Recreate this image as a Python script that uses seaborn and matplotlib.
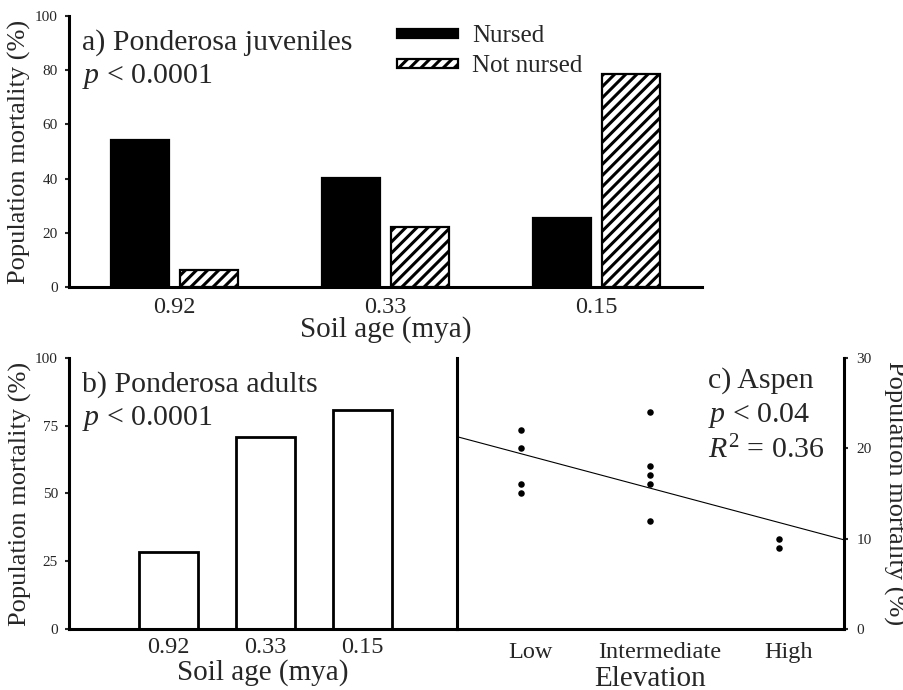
import numpy as np
import pandas as pd
import matplotlib
matplotlib.use("Agg")
import matplotlib.pyplot as plt
import seaborn as sns

# ---------------- data ----------------
soil_ages = ["0.92", "0.33", "0.15"]
juv_nursed = [54.3, 40.2, 25.5]
juv_not_nursed = [6.4, 22.1, 78.6]
juv_groups = ["Nursed", "Not nursed"]

adult_mortality = [28.5, 71.0, 80.9]

elev_levels = ["Low", "Intermediate", "High"]
aspen_elev = ["Low", "Low", "Low", "Low",
              "Intermediate", "Intermediate", "Intermediate", "Intermediate", "Intermediate",
              "High", "High"]
aspen_mortality = [22, 20, 16, 15, 24, 18, 17, 16, 12, 10, 9]

# ---------------- style ----------------
sns.set_style("ticks")
plt.rcParams["font.family"] = ["Liberation Serif", "DejaVu Serif"]
plt.rcParams["mathtext.fontset"] = "custom"
plt.rcParams["mathtext.rm"] = "Liberation Serif"
plt.rcParams["mathtext.it"] = "Liberation Serif:italic"
plt.rcParams["hatch.linewidth"] = 2.2
plt.rcParams["axes.linewidth"] = 2.2

fig = plt.figure(figsize=(9.04, 6.9), dpi=100)
ax_a = fig.add_axes([0.0763, 0.584, 0.7002, 0.3928])
ax_b = fig.add_axes([0.0763, 0.0884, 0.4292, 0.3928])
ax_c = fig.add_axes([0.5055, 0.0884, 0.4281, 0.3928])

TXT = 21.5
XT = 17.5
YT = 11
YL = 19
XL = 21


def style_axis(ax):
    ax.tick_params(axis="y", labelsize=YT, length=3, width=1.5, pad=5, direction="out")
    ax.tick_params(axis="x", labelsize=XT, length=0, pad=7)
    for s in ax.spines.values():
        s.set_linewidth(2.2)
        s.set_color("black")


# ---------------- panel a ----------------
df_a = pd.DataFrame({
    "age": soil_ages + soil_ages,
    "mortality": juv_nursed + juv_not_nursed,
    "group": [juv_groups[0]] * 3 + [juv_groups[1]] * 3,
})
sns.barplot(data=df_a, x="age", y="mortality", hue="group", order=soil_ages,
            hue_order=juv_groups, palette=["black", "white"], saturation=1,
            edgecolor="black", linewidth=1.6, width=0.65, gap=0.15,
            errorbar=None, legend=False, ax=ax_a)
for p in ax_a.containers[1]:
    p.set_hatch("///")
ax_a.set_xlim(-0.5, 2.5)
ax_a.set_ylim(0, 100)
ax_a.set_yticks([0, 20, 40, 60, 80, 100])
style_axis(ax_a)
ax_a.spines["top"].set_visible(False)
ax_a.spines["right"].set_visible(False)
ax_a.set_xlabel("Soil age (mya)", fontsize=XL)
ax_a.set_ylabel("Population mortality (%)", fontsize=YL, va="center", ha="center")
ax_a.yaxis.set_label_coords(-0.078, 0.5)
ax_a.xaxis.set_label_coords(0.5, -0.108)
ax_a.text(0.0205, 0.8745, "a) Ponderosa juveniles", transform=ax_a.transAxes,
          fontsize=TXT, va="baseline", ha="left")
ax_a.text(0.0205, 0.753, r"$p$ < 0.0001", transform=ax_a.transAxes,
          fontsize=TXT, va="baseline", ha="left")
ax_a.legend(handles=[ax_a.containers[0][0], ax_a.containers[1][0]], labels=juv_groups,
            frameon=False, loc="upper left", bbox_to_anchor=(0.518, 0.965),
            borderaxespad=0, borderpad=0, handlelength=2.45, handleheight=0.2,
            handletextpad=0.55, labelspacing=0.32, fontsize=18)

# ---------------- panel b ----------------
df_b = pd.DataFrame({"age": soil_ages, "mortality": adult_mortality})
sns.barplot(data=df_b, x="age", y="mortality", order=soil_ages, color="white",
            saturation=1, edgecolor="black", linewidth=2.0, width=0.61,
            errorbar=None, ax=ax_b)
ax_b.set_xlim(-1.03, 2.98)
ax_b.set_ylim(0, 100)
ax_b.set_yticks([0, 25, 50, 75, 100])
style_axis(ax_b)
ax_b.tick_params(axis="x", pad=6)
ax_b.spines["top"].set_visible(False)
ax_b.spines["right"].set_visible(False)
ax_b.set_xlabel("Soil age (mya)", fontsize=XL)
ax_b.set_ylabel("Population mortality (%)", fontsize=YL, va="center", ha="center")
ax_b.yaxis.set_label_coords(-0.125, 0.5)
ax_b.xaxis.set_label_coords(0.5, -0.11)
ax_b.text(0.0335, 0.8745, "b) Ponderosa adults", transform=ax_b.transAxes,
          fontsize=TXT, va="baseline", ha="left")
ax_b.text(0.0335, 0.753, r"$p$ < 0.0001", transform=ax_b.transAxes,
          fontsize=TXT, va="baseline", ha="left")

# ---------------- panel c ----------------
elev_pos = [elev_levels.index(e) + 0.5 for e in aspen_elev]
ax_c.set_xlim(0, 3)
ax_c.set_ylim(0, 30)
sns.regplot(x=elev_pos, y=aspen_mortality, ci=None, truncate=False, color="black",
            scatter_kws={"s": 22, "linewidths": 0, "alpha": 1},
            line_kws={"linewidth": 0.8}, ax=ax_c)
ax_c.set_xlim(0, 3)
ax_c.set_ylim(0, 30)
ax_c.set_xticks([i + 0.57 for i in range(len(elev_levels))])
ax_c.set_xticklabels(elev_levels)
ax_c.yaxis.tick_right()
ax_c.set_yticks([0, 10, 20, 30])
style_axis(ax_c)
ax_c.tick_params(axis="x", pad=9)
ax_c.tick_params(axis="y", left=False, right=True, pad=6)
ax_c.spines["top"].set_visible(False)
ax_c.set_xlabel("Elevation", fontsize=XL)
ax_c.xaxis.set_label_coords(0.5, -0.135)
ax_c.yaxis.set_label_position("right")
ax_c.set_ylabel("Population mortality (%)", fontsize=YL, rotation=270,
                va="center", ha="center")
ax_c.yaxis.set_label_coords(1.13, 0.5)
ax_c.text(0.649, 0.889, "c) Aspen", transform=ax_c.transAxes,
          fontsize=TXT, va="baseline", ha="left")
ax_c.text(0.649, 0.764, r"$p$ < 0.04", transform=ax_c.transAxes,
          fontsize=TXT, va="baseline", ha="left")
ax_c.text(0.649, 0.631, r"$R^{\mathrm{2}}$ = 0.36", transform=ax_c.transAxes,
          fontsize=TXT, va="baseline", ha="left")

fig.savefig("out.png", dpi=100)
